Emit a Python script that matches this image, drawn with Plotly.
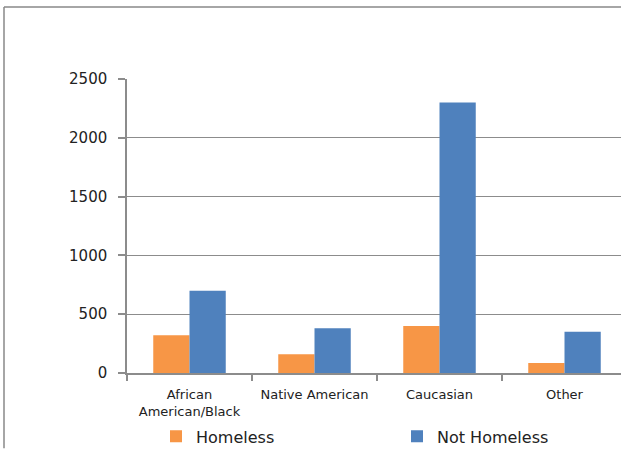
import plotly.graph_objects as go

categories = ["African<br>American/Black", "Native American", "Caucasian", "Other"]
homeless = [320, 160, 400, 85]
not_homeless = [700, 380, 2300, 350]
y_ticks = [0, 500, 1000, 1500, 2000, 2500]

ORANGE = "#F79646"
BLUE = "#4F81BD"
GRID = "#8C8C8C"
FONT = "DejaVu Sans"

fig = go.Figure()
fig.add_trace(go.Bar(name="Homeless", x=categories, y=homeless,
                     marker=dict(color=ORANGE, line=dict(width=0))))
fig.add_trace(go.Bar(name="Not Homeless", x=categories, y=not_homeless,
                     marker=dict(color=BLUE, line=dict(width=0))))

L, T, W, H = 127, 79, 621, 449
B = 75.5
pw = W - L
ph = H - T - B


def px_x(p):
    return (p - L) / pw


def px_y(p):
    return (H - B - p) / ph


fig.update_layout(
    width=W, height=H,
    margin=dict(l=L, r=0, t=T, b=B, autoexpand=False),
    paper_bgcolor="white", plot_bgcolor="white",
    barmode="group", bargap=0.42, bargroupgap=0,
    font=dict(family=FONT, color="#222222"),
    showlegend=True,
    legend=dict(orientation="h", x=px_x(156), xanchor="left",
                y=px_y(437), yanchor="middle",
                font=dict(size=16, family=FONT, color="#222222"),
                entrywidth=196, entrywidthmode="pixels",
                itemsizing="constant", traceorder="normal",
                bgcolor="rgba(0,0,0,0)"),
    xaxis=dict(range=[-0.5, -0.5 + pw / 125.0], tickson="boundaries",
               ticks="outside", ticklen=6, tickcolor=GRID, tickwidth=1.5,
               showline=True, linecolor=GRID, linewidth=1.5,
               showgrid=False, ticklabelstandoff=9,
               tickfont=dict(size=13, family=FONT, color="#222222"),
               fixedrange=True),
    yaxis=dict(range=[0, 2500], tickvals=y_ticks,
               ticks="outside", ticklen=7, tickcolor=GRID, tickwidth=1.5,
               showline=True, linecolor=GRID, linewidth=1.5,
               showgrid=True, gridcolor=GRID, gridwidth=1.3,
               zeroline=False, ticklabelstandoff=8,
               tickfont=dict(size=15, family=FONT, color="#222222"),
               fixedrange=True),
)

# outer chart-area frame (top and left edges)
fig.add_shape(type="line", xref="paper", yref="paper",
              x0=px_x(4), y0=px_y(7), x1=px_x(621), y1=px_y(7),
              line=dict(color="#888888", width=1.5))
fig.add_shape(type="line", xref="paper", yref="paper",
              x0=px_x(4), y0=px_y(7), x1=px_x(4), y1=px_y(449),
              line=dict(color="#888888", width=1.5))

fig.write_html("out.html")
